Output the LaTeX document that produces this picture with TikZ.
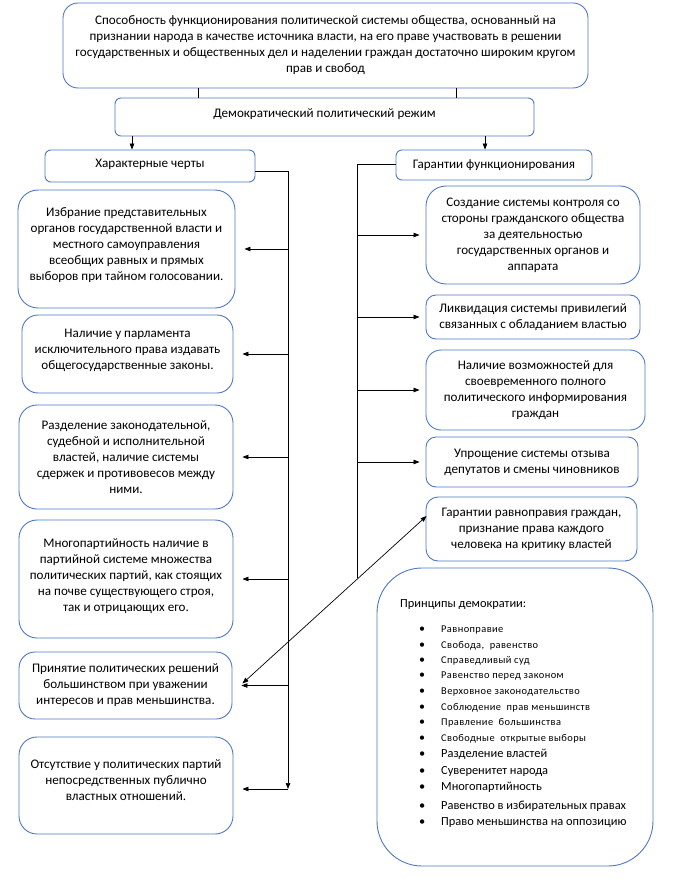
\documentclass[tikz,border=0pt]{standalone}
\usepackage{fontspec}
\setmainfont{Carlito}
\newfontfamily\spacedfont[LetterSpace=4]{Carlito}
\usetikzlibrary{arrows.meta}
\definecolor{boxblue}{HTML}{4F77C4}
\begin{document}
\begin{tikzpicture}[x=1pt,y=-1pt,
  box/.style={draw=boxblue, line width=0.9pt, rounded corners=16pt, align=center, inner sep=0pt,
    font=\fontsize{13.1}{16}\selectfont},
  conn/.style={draw=black, line width=0.7pt},
  arr/.style={conn, -{Triangle[length=6pt,width=4.5pt]}},
  darr/.style={conn, {Triangle[length=6pt,width=4.5pt]}-{Triangle[length=6pt,width=4.5pt]}},
  smallitem/.style={anchor=base west, inner sep=0pt, font=\spacedfont\fontsize{10.4}{12}\selectfont},
  bigitem/.style={anchor=base west, inner sep=0pt, font=\fontsize{12.4}{14}\selectfont}]
\useasboundingbox (0,0) rectangle (673,885);
\fill[white] (0,0) rectangle (673,885);

% top
\node[box, rounded corners=15pt, minimum width=525pt, minimum height=85pt] (top) at (325.5,45.5)
 {Способность функционирования политической системы общества, основанный на\\
  признании народа в качестве источника власти, на его праве участвовать в решении\\
  государственных и общественных дел и наделении граждан достаточно широким кругом\\
  прав и свобод};
\node[box, rounded corners=6pt, minimum width=419pt, minimum height=38pt] (demo) at (324.5,117)
 {Демократический политический режим\\[-8pt]};
\node[box, rounded corners=6pt, minimum width=210pt, minimum height=32pt] (char) at (150,166)
 {Характерные черты\\[-10pt]};
\node[box, rounded corners=6pt, minimum width=196pt, minimum height=30pt] (guar) at (494,165)
 {Гарантии функционирования};

% left column
\node[box, rounded corners=20pt, minimum width=217pt, minimum height=118pt] (b1) at (126.5,249)
 {Избрание представительных\\органов государственной власти и\\местного самоуправления\\всеобщих равных и прямых\\выборов при тайном голосовании.\\[-6pt]};
\node[box, minimum width=211pt, minimum height=78pt] (b2) at (127.5,354)
 {Наличие у парламента\\исключительного права издавать\\общегосударственные законы.\\[-6pt]};
\node[box, rounded corners=18pt, minimum width=214pt, minimum height=104pt] (b3) at (126,457)
 {Разделение законодательной,\\судебной и исполнительной\\властей, наличие системы\\сдержек и противовесов между\\ними.};
\node[box, rounded corners=18pt, minimum width=214pt, minimum height=118pt] (b4) at (126,579)
 {Многопартийность наличие в\\партийной системе множества\\политических партий, как стоящих\\на почве существующего строя,\\так и отрицающих его.\\[-8pt]};
\node[box, minimum width=213pt, minimum height=67pt] (b5) at (125.5,685.5)
 {Принятие политических решений\\большинством при уважении\\интересов и прав меньшинства.};
\node[box, rounded corners=18pt, minimum width=214pt, minimum height=97pt] (b6) at (126,785.5)
 {Отсутствие у политических партий\\непосредственных публично\\властных отношений.\\[-6pt]};

% right column
\node[box, rounded corners=20pt, minimum width=214pt, minimum height=98pt] (r1) at (533,235)
 {Создание системы контроля со\\стороны гражданского общества\\за деятельностью\\государственных органов и\\аппарата};
\node[box, rounded corners=10pt, minimum width=214pt, minimum height=44pt] (r2) at (533,317)
 {Ликвидация системы привилегий\\связанных с обладанием властью};
\node[box, rounded corners=15pt, minimum width=219pt, minimum height=80pt] (r3) at (535.5,390)
 {Наличие возможностей для\\своевременного полного\\политического информирования\\граждан};
\node[box, rounded corners=10pt, minimum width=212pt, minimum height=50pt] (r4) at (532,462)
 {Упрощение системы отзыва\\депутатов и смены чиновников};
\node[box, rounded corners=12pt, minimum width=211pt, minimum height=64pt] (r5) at (531.5,529)
 {Гарантии равноправия граждан,\\признание права каждого\\человека на критику властей};

% principles
\node[box, rounded corners=45pt, minimum width=276pt, minimum height=298pt] (pr) at (515,717) {};
\node[bigitem] (prt) at (400,607) {Принципы демократии:};
\foreach \yy/\tt [count=\i] in {632/Равноправие, 648/{Свобода,\ \ равенство}, 663/Справедливый суд,
  678/Равенство перед законом, 694/Верховное законодательство, 710/{Соблюдение\ \ прав меньшинств},
  725/{Правление\ \ большинства}, 741/{Свободные\ \ открытые выборы}}
  \node[smallitem] (ps\i) at (419,\yy) {\makebox[22pt][l]{\fontsize{12}{12}\selectfont\textbullet}\tt};
\foreach \yy/\tt [count=\i] in {757.5/Разделение властей, 774.5/Суверенитет народа, 790.5/Многопартийность,
  809.5/Равенство в избирательных правах, 825.5/Право меньшинства на оппозицию}
  \node[bigitem] (pl\i) at (419,\yy) {\makebox[22pt][l]{\textbullet}\tt};

% connectors
\coordinate (c1) at (198,0);
\coordinate (c2) at (456,0);
\draw[conn] (top.south -| c1) -- (demo.north -| c1);
\draw[conn] (top.south -| c2) -- (demo.north -| c2);
\coordinate (a1) at (132,0);
\coordinate (a2) at (485,0);
\draw[arr] (demo.south -| a1) -- (char.north -| a1);
\draw[arr] (demo.south -| a2) -- (guar.north -| a2);

\coordinate (TL) at (288,171);
\coordinate (TLend) at (288,789);
\draw[arr] (char.east |- TL) -| (TLend);
\foreach \b in {b1,b2,b3,b4,b5}
  \draw[arr, shorten >=9pt] (\b.east -| TL) -- (\b.east);
\draw[arr, shorten >=9pt] (TLend) -- (b6.east |- TLend);

\coordinate (TR) at (357,164);
\coordinate (TRend) at (357,578);
\draw[conn] (guar.west |- TR) -| (TRend);
\foreach \r in {r1,r2,r3,r4}
  \draw[arr, shorten >=6pt] (\r.west -| TR) -- (\r.west);

\draw[darr] ([xshift=10pt,yshift=2pt]b5.east) -- ([xshift=1pt,yshift=13pt]r5.west);
\end{tikzpicture}
\end{document}
